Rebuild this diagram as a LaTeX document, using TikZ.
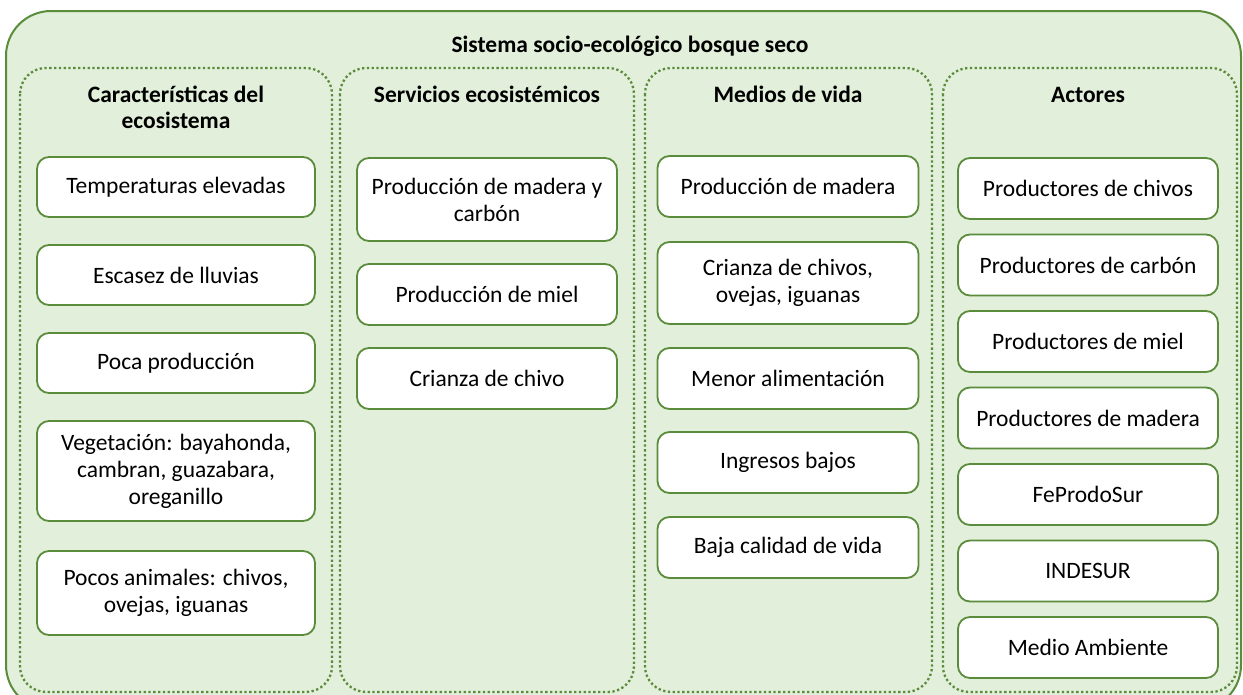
\documentclass[tikz,border=0pt]{standalone}
\usepackage{fontspec}
\setmainfont{Carlito}
\usepackage{xcolor}
\usetikzlibrary{positioning}

\definecolor{verde}{HTML}{5A8C3C}
\definecolor{fondo}{HTML}{E2EFDA}

\begin{document}
\begin{tikzpicture}[
    x=1pt, y=-1pt,
    node distance=28pt,
    every node/.style={font=\fontsize{23.5}{27}\selectfont},
    item/.style={
        draw=verde,
        fill=white,
        line width=1.8pt,
        rounded corners=12pt,
        align=center,
        inner sep=2pt,
        outer sep=0pt,
        minimum height=61pt
    },
    col/.style={
        draw=verde,
        line width=2.3pt,
        dash pattern=on 2.3pt off 2.5pt,
        rounded corners=26pt
    },
    title/.style={font=\bfseries\fontsize{23.5}{26}\selectfont, align=center}
]

\useasboundingbox (0,0) rectangle (1243,694);
\clip (0,0) rectangle (1243,694);

% Outer system
\draw[verde, fill=fondo, line width=2pt, rounded corners=45pt] (6,11) rectangle (1241,710);
\node[title, anchor=base] (sys) at (630,52) {Sistema socio-ecológico bosque seco};

% Columns
\draw[col] (20,68) rectangle (332,692);
\draw[col] (340,68) rectangle (634,692);
\draw[col] (645,68) rectangle (932,692);
\draw[col] (943,68) rectangle (1237,692);

\node[title, anchor=base] (eco) at (176,128) {Características del\\ecosistema};
\node[title, anchor=base] (serv) at (487,102) {Servicios ecosistémicos};
\node[title, anchor=base] (vida) at (788,102) {Medios de vida};
\node[title, anchor=base] (act) at (1088,102) {Actores};

% Características del ecosistema
\node[item, minimum width=278pt, minimum height=60pt, anchor=north] (temp) at (176,157) {Temperaturas elevadas};
\node[item, minimum width=278pt, minimum height=60pt, below=of temp] (lluv) {Escasez de lluvias};
\node[item, minimum width=278pt, minimum height=60pt, below=of lluv] (poca) {Poca producción};
\node[item, minimum width=278pt, minimum height=100pt, below=of poca] (veg) {Vegetación: bayahonda,\\cambran, guazabara,\\oreganillo};
\node[item, minimum width=278pt, minimum height=84pt, below=30pt of veg] (anim) {Pocos animales: chivos,\\ovejas, iguanas};

% Servicios ecosistémicos
\node[item, minimum width=260pt, minimum height=83pt, anchor=north] (mad) at (487,158) {Producción de madera y\\carbón};
\node[item, minimum width=260pt, below=23pt of mad] (miel) {Producción de miel};
\node[item, minimum width=260pt, below=23pt of miel] (chivo) {Crianza de chivo};

% Medios de vida
\node[item, minimum width=261pt, anchor=north] (pmad) at (788,156) {Producción de madera};
\node[item, minimum width=261pt, minimum height=82pt, below=25pt of pmad] (cria) {Crianza de chivos,\\ovejas, iguanas};
\node[item, minimum width=261pt, below=24pt of cria] (alim) {Menor alimentación};
\node[item, minimum width=261pt, below=23pt of alim] (ingr) {Ingresos bajos};
\node[item, minimum width=261pt, below=24pt of ingr] (cal) {Baja calidad de vida};

% Actores
\node[item, minimum width=260pt, anchor=north] (pchiv) at (1088,158) {Productores de chivos};
\node[item, minimum width=260pt, below=15.5pt of pchiv] (pcarb) {Productores de carbón};
\node[item, minimum width=260pt, below=15.5pt of pcarb] (pmiel) {Productores de miel};
\node[item, minimum width=260pt, below=15.5pt of pmiel] (pmade) {Productores de madera};
\node[item, minimum width=260pt, below=15.5pt of pmade] (fepro) {FeProdoSur};
\node[item, minimum width=260pt, below=15.5pt of fepro] (inde) {INDESUR};
\node[item, minimum width=260pt, below=15.5pt of inde] (medio) {Medio Ambiente};

\end{tikzpicture}
\end{document}
